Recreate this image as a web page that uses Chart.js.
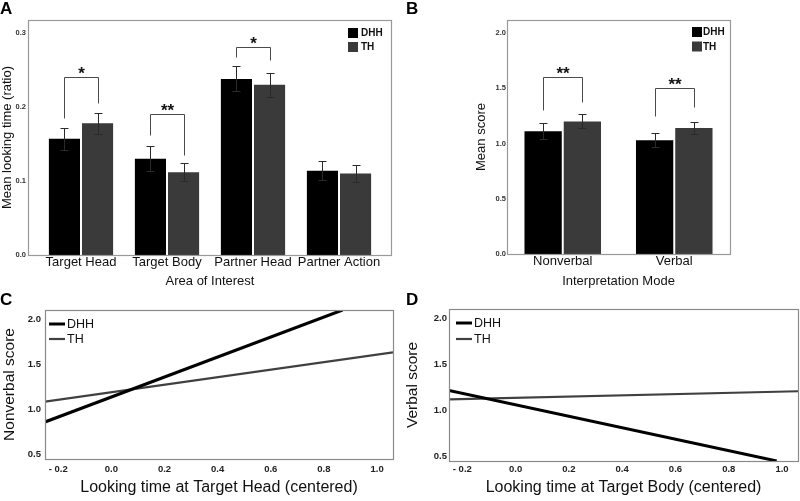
<!DOCTYPE html>
<html>
<head>
<meta charset="utf-8">
<script src="https://cdn.jsdelivr.net/npm/chart.js@4.4.1/dist/chart.umd.min.js"></script>
<style>
  body { margin: 0; width: 800px; height: 501px; position: relative; overflow: hidden; background: #fff; font-family: "Liberation Sans", Arial, sans-serif; }
  canvas { position: absolute; }
  .panel { position: absolute; font-weight: bold; font-size: 17px; line-height: 17px; color: #000; }
</style>
</head>
<body>
<canvas id="chartA" width="400" height="295" style="left:0;top:0"></canvas>
<canvas id="chartB" width="400" height="295" style="left:400px;top:0"></canvas>
<canvas id="chartC" width="400" height="206" style="left:0;top:295px"></canvas>
<canvas id="chartD" width="400" height="206" style="left:400px;top:295px"></canvas>
<div class="panel" style="left:0;top:0">A</div>
<div class="panel" style="left:406px;top:0">B</div>
<div class="panel" style="left:0;top:291px">C</div>
<div class="panel" style="left:406px;top:291px">D</div>
<script>
// A: looking time by area of interest
const aoiLabels = ["Target Head", "Target Body", "Partner Head", "Partner Action"];
const lookDHH = [0.157, 0.13, 0.238, 0.114];
const lookTH = [0.178, 0.112, 0.23, 0.11];
const lookErrDHH = [0.015, 0.017, 0.017, 0.013];
const lookErrTH = [0.014, 0.012, 0.016, 0.011];
const lookSig = ["*", "**", "*", ""];
const lookSigLeft = [0.185, 0.162, 0.268, null];
const lookSigTop = [0.2405, 0.1905, 0.281, null];
const lookSigRight = [0.205, 0.135, 0.2635, null];
const lookTicks = [0, 0.1, 0.2, 0.3];

// B: interpretation scores
const modeLabels = ["Nonverbal", "Verbal"];
const scoreDHH = [1.11, 1.03];
const scoreTH = [1.2, 1.14];
const scoreErrDHH = [0.073, 0.063];
const scoreErrTH = [0.063, 0.055];
const scoreSig = ["**", "**"];
const scoreSigLeft = [1.3, 1.25];
const scoreSigTop = [1.6, 1.5];
const scoreSigRight = [1.375, 1.33];
const scoreTicks = [0, 0.5, 1.0, 1.5, 2.0];

// C: nonverbal score vs looking time at target head
const headDhhX = [-0.25, 0.87];
const headDhhY = [0.86, 2.1];
const headThX = [-0.25, 1.06];
const headThY = [1.085, 1.63];

// D: verbal score vs looking time at target body
const bodyDhhX = [-0.25, 0.98];
const bodyDhhY = [1.217, 0.45];
const bodyThX = [-0.25, 1.06];
const bodyThY = [1.12, 1.207];

const slopeTicksX = [-0.2, 0, 0.2, 0.4, 0.6, 0.8, 1.0];
const slopeTicksY = [0.5, 1.0, 1.5, 2.0];

const dhhColor = "#000000";
const thColor = "#3a3a3a";

Chart.defaults.font.family = '"Liberation Sans", Arial, sans-serif';
Chart.defaults.color = "#111";

const framePlugin = {
  id: "frame",
  afterDraw(chart, args, opts) {
    const { ctx, chartArea: a } = chart;
    const l = Math.round(a.left - (opts.left || 0)) + 0.5;
    const r = Math.round(a.right + (opts.right || 0)) + 0.5;
    const t = Math.round(a.top) + 0.5;
    const b = Math.round(a.bottom) + 0.5;
    ctx.save();
    ctx.strokeStyle = opts.color || "#8a8a8a";
    ctx.lineWidth = 1.2;
    ctx.strokeRect(l, t, r - l, b - t);
    ctx.restore();
  },
};

const errorBarPlugin = {
  id: "errorBars",
  afterDatasetsDraw(chart, args, opts) {
    const { ctx } = chart;
    const y = chart.scales.y;
    ctx.save();
    ctx.strokeStyle = "#2a2a2a";
    ctx.lineWidth = 1;
    chart.data.datasets.forEach((ds, i) => {
      if (!ds.errors) return;
      chart.getDatasetMeta(i).data.forEach((bar, j) => {
        const x = Math.round(bar.x) + 0.5;
        const top = Math.round(y.getPixelForValue(ds.data[j] + ds.errors[j])) + 0.5;
        const bot = Math.round(y.getPixelForValue(ds.data[j] - ds.errors[j])) + 0.5;
        ctx.beginPath();
        ctx.moveTo(x, top);
        ctx.lineTo(x, bot);
        ctx.moveTo(x - 4, top);
        ctx.lineTo(x + 4, top);
        ctx.moveTo(x - 4, bot);
        ctx.lineTo(x + 4, bot);
        ctx.stroke();
      });
    });
    ctx.restore();
  },
};

const bracketPlugin = {
  id: "brackets",
  afterDatasetsDraw(chart, args, opts) {
    if (!opts.labels) return;
    const { ctx } = chart;
    const y = chart.scales.y;
    const m0 = chart.getDatasetMeta(0);
    const m1 = chart.getDatasetMeta(1);
    ctx.save();
    opts.labels.forEach((lab, i) => {
      if (!lab) return;
      const x0 = Math.round(m0.data[i].x) + 0.5;
      const x1 = Math.round(m1.data[i].x) + 0.5;
      const yl = Math.round(y.getPixelForValue(opts.left[i])) + 0.5;
      const yt = Math.round(y.getPixelForValue(opts.top[i])) + 0.5;
      const yr = Math.round(y.getPixelForValue(opts.right[i])) + 0.5;
      ctx.strokeStyle = "#4a4a4a";
      ctx.lineWidth = 1;
      ctx.beginPath();
      ctx.moveTo(x0, yl);
      ctx.lineTo(x0, yt);
      ctx.lineTo(x1, yt);
      ctx.lineTo(x1, yr);
      ctx.stroke();
      ctx.fillStyle = "#111";
      ctx.font = 'bold 17px "Liberation Sans", Arial, sans-serif';
      ctx.textAlign = "center";
      ctx.textBaseline = "alphabetic";
      ctx.fillText(lab, (x0 + x1) / 2, yt + 1);
    });
    ctx.restore();
  },
};

const boxLegendPlugin = {
  id: "boxLegend",
  afterDraw(chart, args, opts) {
    const { ctx } = chart;
    ctx.save();
    chart.data.datasets.forEach((ds, i) => {
      const top = opts.y + i * opts.step;
      let textX;
      if (opts.type === "line") {
        ctx.strokeStyle = ds.borderColor;
        ctx.lineWidth = ds.borderWidth;
        ctx.beginPath();
        ctx.moveTo(opts.x, top);
        ctx.lineTo(opts.x + 16, top);
        ctx.stroke();
        textX = opts.x + 18;
      } else {
        ctx.fillStyle = ds.backgroundColor;
        ctx.fillRect(opts.x, top - 5, 10, 10);
        textX = opts.x + 10 + opts.gap;
      }
      ctx.fillStyle = "#111";
      ctx.font = opts.font;
      ctx.textAlign = "left";
      ctx.textBaseline = "middle";
      ctx.fillText(ds.label, textX, top + 0.5);
    });
    ctx.restore();
  },
};

function fixedTicks(values) {
  return (scale) => {
    scale.ticks = values.map((v) => ({ value: v }));
  };
}

function barChart(id, labels, dhh, th, errDhh, errTh, cfg) {
  return new Chart(document.getElementById(id), {
    type: "bar",
    data: {
      labels: labels,
      datasets: [
        { label: "DHH", data: dhh, errors: errDhh, backgroundColor: dhhColor },
        { label: "TH", data: th, errors: errTh, backgroundColor: thColor },
      ],
    },
    options: {
      responsive: false,
      animation: false,
      layout: { padding: cfg.padding },
      datasets: { bar: { categoryPercentage: cfg.catPct, barPercentage: cfg.barPct } },
      plugins: {
        legend: { display: false },
        tooltip: { enabled: false },
        frame: cfg.frame,
        boxLegend: cfg.legend,
        brackets: cfg.brackets,
      },
      scales: {
        x: {
          grid: { display: false, drawTicks: false },
          border: { display: false },
          ticks: { font: { size: 13 }, padding: 0, autoSkip: false, maxRotation: 0 },
          title: { display: true, text: cfg.xTitle, font: { size: 13 }, padding: { top: 0, bottom: 5.5 } },
          afterFit: (s) => {
            s.height = cfg.xHeight;
            s.paddingLeft = 0;
            s.paddingRight = 0;
          },
        },
        y: {
          min: 0,
          max: cfg.yMax,
          grid: { display: false, drawTicks: false },
          border: { display: false },
          afterBuildTicks: fixedTicks(cfg.yTicks),
          ticks: { font: { size: 7.5, weight: "bold" }, color: "#333", padding: cfg.tickPad, callback: (v) => v.toFixed(1) },
          title: { display: true, text: cfg.yTitle, font: { size: cfg.yTitleSize }, padding: { top: cfg.yTitlePad, bottom: 0 } },
          afterFit: (s) => {
            s.width = cfg.yWidth;
            s.paddingTop = 0;
            s.paddingBottom = 0;
          },
        },
      },
    },
    plugins: [framePlugin, errorBarPlugin, bracketPlugin, boxLegendPlugin],
  });
}

function slopeChart(id, dhhX, dhhY, thX, thY, cfg) {
  return new Chart(document.getElementById(id), {
    type: "line",
    data: {
      datasets: [
        { label: "DHH", data: dhhX.map((x, i) => ({ x: x, y: dhhY[i] })), borderColor: "#000", borderWidth: 3, pointRadius: 0, borderCapStyle: "butt" },
        { label: "TH", data: thX.map((x, i) => ({ x: x, y: thY[i] })), borderColor: "#404040", borderWidth: 2.2, pointRadius: 0, borderCapStyle: "butt" },
      ],
    },
    options: {
      responsive: false,
      animation: false,
      layout: { padding: cfg.padding },
      plugins: {
        legend: { display: false },
        tooltip: { enabled: false },
        frame: { color: "#8a8a8a" },
        boxLegend: cfg.legend,
      },
      scales: {
        x: {
          type: "linear",
          min: -0.25,
          max: 1.06,
          grid: { display: false, drawTicks: false },
          border: { display: false },
          afterBuildTicks: fixedTicks(slopeTicksX),
          ticks: {
            font: { size: 9.5, weight: "bold" },
            color: "#222",
            padding: cfg.xTickPad,
            maxRotation: 0,
            callback: (v) => (v < 0 ? "- " + (-v).toFixed(1) : v.toFixed(1)),
          },
          title: { display: true, text: cfg.xTitle, font: { size: 16 }, padding: { top: 0, bottom: 3.4 } },
          afterFit: (s) => {
            s.height = cfg.xHeight;
            s.paddingLeft = 0;
            s.paddingRight = 0;
          },
        },
        y: {
          min: 0.45,
          max: 2.1,
          grid: { display: false, drawTicks: false },
          border: { display: false },
          afterBuildTicks: fixedTicks(slopeTicksY),
          ticks: { font: { size: 9.5, weight: "bold" }, color: "#222", padding: cfg.yTickPad, callback: (v) => v.toFixed(1) },
          title: { display: true, text: cfg.yTitle, font: { size: 15.5 }, padding: { top: cfg.yTitlePad, bottom: 0 } },
          afterFit: (s) => {
            s.width = cfg.yWidth;
            s.paddingTop = 0;
            s.paddingBottom = 0;
          },
        },
      },
    },
    plugins: [framePlugin, boxLegendPlugin],
  });
}

barChart("chartA", aoiLabels, lookDHH, lookTH, lookErrDHH, lookErrTH, {
  padding: { left: 0, right: 18, top: 20, bottom: 0 },
  catPct: 0.77,
  barPct: 0.94,
  frame: { left: 10, right: 9, color: "#999" },
  legend: { x: 348, y: 33, step: 14, gap: 3, font: 'bold 10px "Liberation Sans", Arial, sans-serif' },
  brackets: { labels: lookSig, left: lookSigLeft, top: lookSigTop, right: lookSigRight },
  xTitle: "Area of Interest",
  xHeight: 40,
  yMax: 0.3176,
  yTicks: lookTicks,
  tickPad: 12,
  yTitle: "Mean looking time (ratio)",
  yTitleSize: 13,
  yTitlePad: 0,
  yWidth: 38,
});

barChart("chartB", modeLabels, scoreDHH, scoreTH, scoreErrDHH, scoreErrTH, {
  padding: { left: 68, right: 70, top: 20, bottom: 0 },
  catPct: 0.704,
  barPct: 0.95,
  frame: { left: 0, right: 0, color: "#999" },
  legend: { x: 292, y: 32, step: 14.5, gap: 1, font: 'bold 10px "Liberation Sans", Arial, sans-serif' },
  brackets: { labels: scoreSig, left: scoreSigLeft, top: scoreSigTop, right: scoreSigRight },
  xTitle: "Interpretation Mode",
  xHeight: 41,
  yMax: 2.118,
  yTicks: scoreTicks,
  tickPad: 1,
  yTitle: "Mean score",
  yTitleSize: 13,
  yTitlePad: 6,
  yWidth: 39,
});

slopeChart("chartC", headDhhX, headDhhY, headThX, headThY, {
  padding: { left: 0, right: 7, top: 15, bottom: 0 },
  legend: { type: "line", x: 49, y: 29, step: 15, font: '12.5px "Liberation Sans", Arial, sans-serif' },
  xTitle: "Looking time at Target Head (centered)",
  xHeight: 42,
  xTickPad: 4.3,
  yTitle: "Nonverbal score",
  yTitlePad: 0,
  yTickPad: 4,
  yWidth: 45,
});

slopeChart("chartD", bodyDhhX, bodyDhhY, bodyThX, bodyThY, {
  padding: { left: 0, right: 2, top: 14, bottom: 0 },
  legend: { type: "line", x: 56, y: 28, step: 16, font: '12.5px "Liberation Sans", Arial, sans-serif' },
  xTitle: "Looking time at Target Body (centered)",
  xHeight: 40,
  xTickPad: 2.3,
  yTitle: "Verbal score",
  yTitlePad: 3.7,
  yTickPad: 2,
  yWidth: 49,
});
</script>
</body>
</html>
